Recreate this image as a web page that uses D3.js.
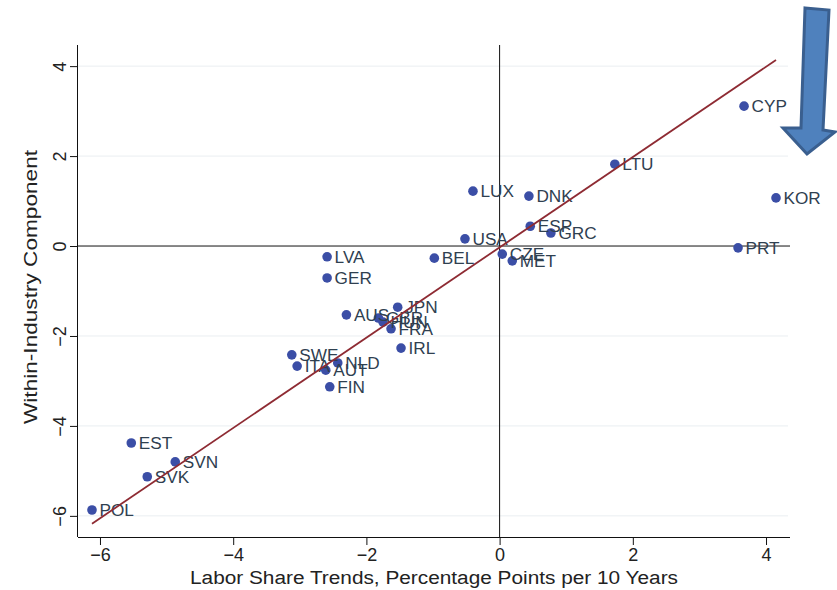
<!DOCTYPE html>
<html><head><meta charset="utf-8">
<script src="https://cdn.jsdelivr.net/npm/d3@7"></script>
<style>body{margin:0;background:#fff}svg{display:block}text{font-family:"Liberation Sans",Arial,Helvetica,sans-serif}</style>
</head><body><svg id="c" width="837" height="590"></svg>
<script>
const countries = ["POL","SVK","SVN","EST","FIN","AUT","NLD","ITA","SWE","IRL","FRA","HUN","GBR","AUS","JPN","GER","LVA","BEL","USA","CZE","MET","ESP","GRC","LUX","DNK","LTU","CYP","KOR","PRT"];
const laborShare = [-6.12,-5.29,-4.87,-5.53,-2.55,-2.61,-2.43,-3.04,-3.12,-1.48,-1.63,-1.75,-1.82,-2.30,-1.53,-2.59,-2.59,-0.98,-0.52,0.04,0.19,0.46,0.77,-0.40,0.44,1.73,3.67,4.15,3.58];
const withinInd  = [-5.87,-5.13,-4.80,-4.38,-3.13,-2.76,-2.60,-2.67,-2.42,-2.27,-1.84,-1.69,-1.60,-1.53,-1.36,-0.71,-0.24,-0.27,0.16,-0.18,-0.33,0.44,0.29,1.22,1.11,1.82,3.11,1.07,-0.04];
const xTicks = [-6,-4,-2,0,2,4];
const yTicks = [-6,-4,-2,0,2,4];
const fitIntercept = -0.03, fitSlope = 1.004, fitRange = [-6.12, 4.15];

const svg = d3.select("#c");
const L=78, R=790, T=45, B=537;
const x = d3.scaleLinear().domain([-6.33,4.36]).range([L,R]);
const y = d3.scaleLinear().domain([-6.47,4.47]).range([B,T]);
const fmt = d => (d<0?"\u2212":"")+Math.abs(d);

// gridlines
svg.append("g").selectAll("line").data(yTicks.filter(d=>d!==0)).join("line")
  .attr("x1",L).attr("x2",R-2).attr("y1",d=>y(d)).attr("y2",d=>y(d))
  .attr("stroke","#eaeef1").attr("stroke-width",1);

// zero lines
svg.append("line").attr("x1",L).attr("x2",R).attr("y1",y(0)).attr("y2",y(0)).attr("stroke","#111").attr("stroke-width",1);
svg.append("line").attr("x1",x(0)).attr("x2",x(0)).attr("y1",T).attr("y2",B).attr("stroke","#111").attr("stroke-width",1);

// axes
const xa = svg.append("g").attr("transform",`translate(0,${B})`)
  .call(d3.axisBottom(x).tickValues(xTicks).tickFormat(fmt).tickSize(8).tickPadding(3));
xa.select(".domain").attr("d",`M${L},0.5H${R}`);
const ya = svg.append("g").attr("transform",`translate(${L},0)`)
  .call(d3.axisLeft(y).tickValues(yTicks).tickFormat(fmt).tickSize(8).tickPadding(4));
ya.select(".domain").attr("d",`M-0.5,${T}V${B}`);
[xa,ya].forEach(g=>{g.selectAll(".domain,line").attr("stroke","#111");g.selectAll("text").attr("font-size",18).attr("fill","#222").attr("font-family",null);});
ya.selectAll(".tick text").attr("text-anchor","middle").attr("dy",null).attr("x",null)
  .attr("transform","translate(-18,0) rotate(-90)").attr("dominant-baseline","central");

// titles
svg.append("text").attr("x",(L+R)/2).attr("y",584).attr("text-anchor","middle").attr("font-size",18).attr("fill","#222")
  .attr("textLength",488).attr("lengthAdjust","spacingAndGlyphs")
  .text("Labor Share Trends, Percentage Points per 10 Years");
svg.append("text").attr("transform",`translate(37,${(T+B)/2-4}) rotate(-90)`).attr("text-anchor","middle").attr("font-size",18.5).attr("fill","#222")
  .attr("textLength",274).attr("lengthAdjust","spacingAndGlyphs")
  .text("Within-Industry Component");

// points
const data = countries.map((c,i)=>({c, x:laborShare[i], y:withinInd[i]}));
svg.append("g").selectAll("circle").data(data).join("circle")
  .attr("cx",d=>x(d.x)).attr("cy",d=>y(d.y)).attr("r",4.8).attr("fill","#3b4ea6");
svg.append("g").selectAll("text").data(data).join("text")
  .attr("x",d=>x(d.x)+7.5).attr("y",d=>y(d.y)).attr("dy","0.36em").attr("font-size",17.2).attr("fill","#2f4050")
  .text(d=>d.c);

// fitted line
svg.append("line").attr("x1",x(fitRange[0])).attr("y1",y(fitIntercept+fitSlope*fitRange[0]))
  .attr("x2",x(fitRange[1])).attr("y2",y(fitIntercept+fitSlope*fitRange[1]))
  .attr("stroke","#8e2b33").attr("stroke-width",1.8);

// annotation arrow
svg.append("path").attr("d","M805,8 L829,10 L823,130 L835,132 L807,154 L783,128 L801,128 Z")
  .attr("fill","#4f81bd").attr("stroke","#3a5f8f").attr("stroke-width",3).attr("stroke-linejoin","miter");
</script></body></html>
